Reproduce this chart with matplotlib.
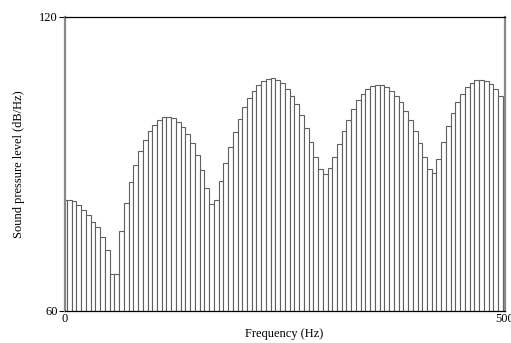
import numpy as np
import matplotlib.pyplot as plt

plt.rcParams['font.family'] = ['Liberation Serif', 'DejaVu Serif']

# FFT bin spacing (Hz) and level of each bin (dB/Hz)
bin_hz = 44100 / 8192
levels = [
    82.6, 82.6, 82.4, 81.6, 80.6, 79.5, 78.2, 77.0, 75.1, 72.4,
    67.5, 67.5, 76.2, 81.9, 86.3, 89.7, 92.5, 94.8, 96.7, 98.0,
    98.9, 99.5, 99.5, 99.3, 98.6, 97.4, 96.0, 94.2, 91.7, 88.7,
    85.0, 81.7, 82.6, 86.4, 90.2, 93.5, 96.5, 99.1, 101.5, 103.4,
    104.8, 106.0, 106.8, 107.2, 107.4, 107.1, 106.4, 105.3, 103.9, 102.1,
    99.9, 97.2, 94.4, 91.3, 88.9, 87.9, 89.1, 91.3, 94.0, 96.7,
    99.0, 101.1, 102.9, 104.2, 105.2, 105.9, 106.1, 106.0, 105.7, 104.9,
    103.9, 102.5, 100.8, 98.9, 96.7, 94.2, 91.4, 88.9, 88.2, 90.9,
    94.4, 97.6, 100.3, 102.5, 104.2, 105.6, 106.5, 107.0, 107.1, 106.8,
    106.2, 105.2, 103.8, 101.5,
]
freqs = np.arange(len(levels)) * bin_hz

fig = plt.figure(figsize=(5.11, 3.43), dpi=100)
ax = fig.add_axes([64.6 / 511, 32.3 / 343, 440 / 511, 294 / 343])

ax.bar(freqs, levels, width=bin_hz, color='white', edgecolor='#606060',
       linewidth=0.8)

ax.set_xlim(0, 500)
ax.set_ylim(60, 120)
ax.set_xticks([0, 500])
ax.set_yticks([60, 120])
ax.tick_params(axis='x', length=0, pad=2, labelsize=9)
ax.tick_params(axis='y', length=4, direction='out', pad=1, labelsize=9)

for side in ['top', 'bottom']:
    ax.spines[side].set_color('black')
    ax.spines[side].set_linewidth(0.9)
for side in ['left', 'right']:
    ax.spines[side].set_color('#888888')
    ax.spines[side].set_linewidth(1.6)

ax.set_xlabel('Frequency (Hz)', fontsize=9, labelpad=2)
ax.set_ylabel('Sound pressure level (dB/Hz)', fontsize=9, labelpad=10)

fig.savefig('out.png', dpi=100)
